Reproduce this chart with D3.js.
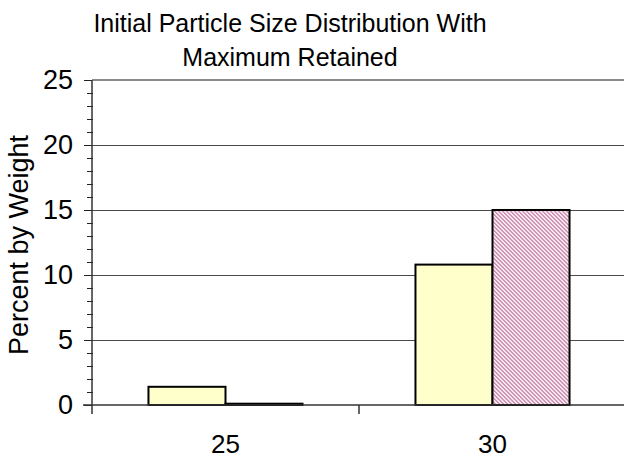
<!DOCTYPE html>
<html>
<head>
<meta charset="utf-8">
<script src="https://cdn.jsdelivr.net/npm/d3@7"></script>
<style>
  html, body { margin: 0; padding: 0; background: #fff; }
  svg text { font-family: "Liberation Sans", Arial, sans-serif; fill: #000; }
</style>
</head>
<body>
<svg id="chart" width="624" height="460"></svg>
<script>
// Sieve sizes and percent-by-weight for each series
const categories = ["25", "30"];
const seriesNames = ["Initial", "Maximum Retained"];
const initialValues = [1.4, 10.8];
const maxRetainedValues = [0.1, 15];
const yTicks = [0, 5, 10, 15, 20, 25];
const titleLines = ["Initial Particle Size Distribution With", "Maximum Retained"];
const yLabel = "Percent by Weight";

const rows = categories.map((c, i) => ({
  category: c,
  values: [
    { series: seriesNames[0], value: initialValues[i] },
    { series: seriesNames[1], value: maxRetainedValues[i] }
  ]
}));

const svg = d3.select("#chart");
const W = 624;
const plot = { left: 92, right: 626, top: 80, bottom: 405 };

const x0 = d3.scaleBand()
  .domain(categories)
  .range([plot.left, plot.right])
  .paddingInner(0.423)
  .paddingOuter(0.2115);

const x1 = d3.scaleBand()
  .domain(seriesNames)
  .range([0, x0.bandwidth()]);

const y = d3.scaleLinear().domain([0, 25]).range([plot.bottom, plot.top]);

// Diagonal hatch for the second series
const defs = svg.append("defs");
const pat = defs.append("pattern")
  .attr("id", "hatch")
  .attr("patternUnits", "userSpaceOnUse")
  .attr("width", 4).attr("height", 4);
pat.append("rect").attr("width", 4).attr("height", 4).attr("fill", "#ffffff");
pat.append("path")
  .attr("d", "M-1,-1 L5,5 M-1,3 L1,5 M3,-1 L5,1")
  .attr("stroke", "#b4578a")
  .attr("stroke-width", 1.1)
  .attr("fill", "none");

const fills = { [seriesNames[0]]: "#ffffcc", [seriesNames[1]]: "url(#hatch)" };

// Gridlines
svg.append("g")
  .selectAll("line")
  .data(yTicks.filter(t => t > 0))
  .join("line")
  .attr("x1", plot.left).attr("x2", W)
  .attr("y1", d => y(d)).attr("y2", d => y(d))
  .attr("stroke", d => d === 25 ? "#8a8a8a" : "#4a4a4a")
  .attr("stroke-width", d => d === 25 ? 2 : 1)
  .attr("shape-rendering", "crispEdges");

// Bars
const groups = svg.append("g")
  .selectAll("g")
  .data(rows)
  .join("g")
  .attr("transform", d => `translate(${x0(d.category)},0)`);

groups.selectAll("rect")
  .data(d => d.values)
  .join("rect")
  .attr("x", d => x1(d.series))
  .attr("y", d => y(d.value))
  .attr("width", x1.bandwidth())
  .attr("height", d => y(0) - y(d.value))
  .attr("fill", d => fills[d.series])
  .attr("stroke", "#000")
  .attr("stroke-width", 2);

// Y axis with major and minor ticks
const yAxis = d3.axisLeft(y).tickValues(yTicks).tickSize(8).tickPadding(11).tickFormat(d3.format("d"));
const gy = svg.append("g").attr("transform", `translate(${plot.left},0)`).call(yAxis);
gy.select(".domain").remove();
gy.selectAll(".tick line").attr("stroke", "#222").attr("stroke-width", 1);
gy.selectAll(".tick text").attr("font-size", 27).attr("font-family", "Liberation Sans, Arial, sans-serif");

svg.append("g")
  .selectAll("line")
  .data(d3.range(0, 26).filter(v => v % 5 !== 0))
  .join("line")
  .attr("x1", plot.left - 5).attr("x2", plot.left + 1)
  .attr("y1", d => y(d)).attr("y2", d => y(d))
  .attr("stroke", "#222").attr("stroke-width", 1)
  .attr("shape-rendering", "crispEdges");

svg.append("line")
  .attr("x1", plot.left).attr("x2", plot.left)
  .attr("y1", plot.top).attr("y2", plot.bottom + 9)
  .attr("stroke", "#333").attr("stroke-width", 1.5);

// X axis line with category divider ticks
svg.append("line")
  .attr("x1", plot.left - 9).attr("x2", W)
  .attr("y1", plot.bottom).attr("y2", plot.bottom)
  .attr("stroke", "#333").attr("stroke-width", 1.5);

svg.append("g")
  .selectAll("line")
  .data(d3.range(1, categories.length))
  .join("line")
  .attr("x1", i => plot.left + i * x0.step()).attr("x2", i => plot.left + i * x0.step())
  .attr("y1", plot.bottom).attr("y2", plot.bottom + 9)
  .attr("stroke", "#333").attr("stroke-width", 1.5);

svg.append("g")
  .selectAll("text")
  .data(categories)
  .join("text")
  .attr("x", d => x0(d) + x0.bandwidth() / 2)
  .attr("y", 453)
  .attr("text-anchor", "middle")
  .attr("font-size", 26)
  .text(d => d);

// Axis title
svg.append("text")
  .attr("transform", `translate(28,245) rotate(-90)`)
  .attr("text-anchor", "middle")
  .attr("font-size", 27)
  .text(yLabel);

// Chart title
svg.append("g")
  .selectAll("text")
  .data(titleLines)
  .join("text")
  .attr("x", 290)
  .attr("y", (d, i) => 32 + i * 34)
  .attr("text-anchor", "middle")
  .attr("font-size", 25)
  .text(d => d);
</script>
</body>
</html>
